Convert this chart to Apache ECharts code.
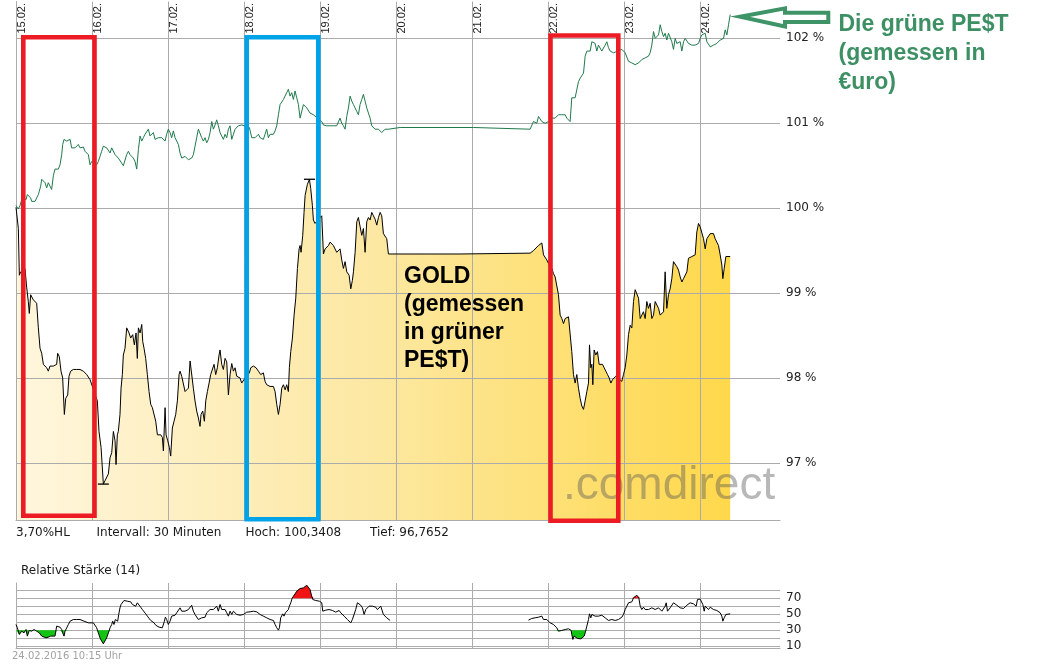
<!DOCTYPE html>
<html><head><meta charset="utf-8">
<script src="https://cdn.jsdelivr.net/npm/echarts@6.0.0/dist/echarts.min.js"></script>
<style>html,body{margin:0;padding:0;background:#fff}#c{width:1048px;height:669px}</style>
</head><body><div id="c"></div>
<script>
// ---- data ----
const dayLabels = ['15.02.','16.02.','17.02.','18.02.','19.02.','20.02.','21.02.','22.02.','23.02.','24.02.'];
const dayTicks = [0,1,2,3,4,5,6,7,8,9];
const pctTicks = [97,98,99,100,101,102];
const rsiGridTicks = [10,20,30,40,50,60,70,80];
const rsiLabelTicks = [10,30,50,70];
const infoTexts = ['3,70%HL','Intervall: 30 Minuten','Hoch: 100,3408','Tief: 96,7652'];
const panelTitle = 'Relative Stärke (14)';
const stamp = '24.02.2016 10:15 Uhr';
const goldNote = ['GOLD','(gemessen','in grüner','PE$T)'];
const pestNote = ['Die grüne PE$T','(gemessen in','€uro)'];

// gold, measured in "green PEST" (% of start), x = days since 15.02.
const gold = [[0,100.01],[0.031,99.76],[0.044,99.21],[0.061,99.25],[0.074,99.23],[0.118,99.29],[0.140,99.07],[0.162,98.90],[0.175,98.76],[0.193,98.98],[0.228,98.92],[0.272,98.88],[0.294,98.59],[0.316,98.35],[0.338,98.29],[0.360,98.16],[0.382,98.17],[0.404,98.12],[0.425,98.08],[0.447,98.14],[0.469,98.12],[0.491,98.14],[0.513,98.12],[0.535,98.16],[0.548,98.29],[0.570,98.25],[0.592,98.08],[0.614,98.00],[0.636,97.57],[0.654,97.76],[0.680,97.80],[0.697,98.02],[0.719,98.08],[0.754,98.10],[0.798,98.10],[0.842,98.10],[0.886,98.08],[0.930,98.04],[0.974,97.98],[1.000,97.96],[1.070,97.73],[1.092,97.37],[1.119,97.18],[1.136,96.94],[1.149,96.75],[1.171,96.79],[1.193,96.77],[1.215,96.87],[1.237,97.06],[1.259,97.12],[1.281,97.37],[1.303,97.26],[1.316,96.98],[1.333,97.33],[1.346,97.37],[1.368,97.57],[1.382,97.88],[1.399,98.04],[1.412,98.27],[1.434,98.35],[1.456,98.59],[1.469,98.60],[1.487,98.53],[1.509,98.47],[1.535,98.51],[1.557,98.39],[1.579,98.53],[1.596,98.23],[1.610,98.59],[1.632,98.53],[1.654,98.63],[1.667,98.43],[1.684,98.35],[1.706,98.23],[1.728,98.04],[1.750,97.84],[1.772,97.69],[1.794,97.65],[1.816,97.63],[1.838,97.49],[1.860,97.33],[1.882,97.35],[1.904,97.33],[1.925,97.30],[1.939,97.14],[1.961,97.65],[1.974,97.33],[1.996,97.26],[2.018,97.18],[2.035,97.08],[2.057,97.41],[2.079,97.49],[2.101,97.57],[2.123,97.73],[2.145,98.04],[2.158,98.08],[2.180,98.02],[2.202,98.04],[2.224,97.84],[2.246,97.86],[2.268,97.88],[2.290,98.20],[2.311,98.21],[2.333,97.88],[2.355,97.73],[2.377,97.61],[2.399,97.53],[2.421,97.43],[2.434,97.57],[2.456,97.61],[2.478,97.49],[2.496,97.73],[2.518,97.84],[2.540,97.94],[2.561,98.04],[2.583,98.06],[2.605,98.16],[2.627,98.04],[2.649,98.12],[2.671,98.27],[2.684,98.33],[2.706,98.16],[2.728,98.10],[2.750,98.23],[2.772,98.19],[2.794,97.80],[2.816,98.04],[2.838,98.17],[2.860,98.08],[2.882,98.12],[2.904,98.02],[2.925,98.04],[2.947,98.00],[2.969,97.94],[2.991,97.96],[3.013,98.00],[3.070,98.06],[3.088,98.12],[3.123,98.14],[3.158,98.12],[3.189,98.08],[3.219,98.04],[3.254,98.06],[3.276,97.96],[3.298,97.92],[3.342,97.90],[3.386,97.90],[3.408,97.84],[3.430,97.69],[3.452,97.57],[3.474,97.69],[3.496,97.88],[3.518,97.92],[3.540,97.86],[3.561,97.92],[3.583,97.84],[3.596,98.12],[3.614,98.31],[3.636,98.47],[3.658,98.74],[3.680,98.94],[3.702,99.29],[3.724,99.52],[3.737,99.56],[3.750,99.48],[3.772,99.68],[3.789,99.95],[3.803,100.15],[3.833,100.28],[3.860,100.34],[3.877,100.23],[3.899,100.03],[3.912,99.86],[3.934,99.82],[3.956,99.84],[4.022,99.91],[4.044,99.46],[4.066,99.52],[4.110,99.56],[4.132,99.60],[4.154,99.58],[4.175,99.56],[4.197,99.54],[4.219,99.48],[4.241,99.50],[4.263,99.52],[4.285,99.39],[4.307,99.29],[4.329,99.37],[4.351,99.25],[4.382,99.21],[4.404,99.05],[4.425,99.15],[4.439,99.25],[4.461,99.48],[4.483,99.84],[4.504,99.89],[4.526,99.87],[4.548,99.68],[4.570,99.76],[4.592,99.48],[4.614,99.84],[4.636,99.89],[4.658,99.86],[4.680,99.95],[4.702,99.91],[4.724,99.87],[4.746,99.80],[4.768,99.89],[4.790,99.95],[4.811,99.91],[4.833,99.70],[4.855,99.70],[4.877,99.64],[4.899,99.46],[5.840,99.46],[5.850,99.47],[6.763,99.47],[6.807,99.50],[6.873,99.56],[6.917,99.59],[6.939,99.45],[6.982,99.39],[7.004,99.35],[7.048,99.29],[7.070,99.23],[7.092,99.19],[7.114,99.17],[7.136,98.98],[7.158,98.74],[7.180,98.70],[7.202,98.64],[7.224,98.70],[7.246,98.72],[7.268,98.72],[7.290,98.74],[7.311,98.31],[7.333,98.04],[7.355,97.94],[7.377,98.04],[7.399,97.88],[7.421,97.76],[7.443,97.67],[7.465,97.63],[7.487,97.73],[7.509,97.84],[7.531,97.94],[7.544,98.39],[7.561,98.12],[7.575,98.16],[7.588,97.92],[7.605,98.33],[7.627,98.27],[7.649,98.31],[7.671,98.16],[7.693,98.17],[7.715,98.16],[7.737,98.12],[7.759,98.08],[7.781,98.04],[7.803,98.00],[7.825,97.94],[7.847,97.98],[7.868,97.96],[7.890,98.02],[7.904,98.04],[7.969,97.96],[7.991,98.04],[8.013,98.12],[8.035,98.27],[8.057,98.51],[8.079,98.62],[8.101,98.59],[8.123,98.90],[8.145,99.04],[8.167,99.05],[8.189,98.94],[8.211,98.70],[8.232,98.68],[8.254,98.78],[8.276,98.70],[8.298,98.90],[8.320,98.82],[8.342,98.88],[8.364,98.70],[8.386,98.74],[8.408,98.90],[8.430,98.90],[8.452,98.82],[8.474,98.74],[8.496,98.76],[8.518,98.78],[8.539,99.25],[8.561,98.82],[8.583,98.98],[8.605,99.05],[8.627,99.17],[8.649,99.37],[8.671,99.35],[8.693,99.31],[8.715,99.27],[8.737,99.19],[8.759,99.13],[8.781,99.17],[8.803,99.19],[8.825,99.25],[8.846,99.41],[8.868,99.41],[8.890,99.43],[8.912,99.41],[8.934,99.45],[8.956,99.72],[8.978,99.82],[9.000,99.78],[9.022,99.76],[9.044,99.64],[9.066,99.52],[9.088,99.64],[9.110,99.64],[9.132,99.70],[9.154,99.68],[9.175,99.70],[9.197,99.64],[9.219,99.60],[9.241,99.56],[9.263,99.45],[9.285,99.33],[9.298,99.17],[9.316,99.29],[9.338,99.43],[9.360,99.43],[9.395,99.43]];

// green PEST measured in euro (% of start)
const pest = [[0.000,100.03],[0.031,99.99],[0.053,100.03],[0.075,100.10],[0.105,100.12],[0.132,100.10],[0.149,100.16],[0.175,100.14],[0.193,100.12],[0.206,100.08],[0.228,100.10],[0.250,100.08],[0.272,100.08],[0.294,100.16],[0.307,100.20],[0.325,100.26],[0.338,100.34],[0.360,100.34],[0.382,100.30],[0.404,100.24],[0.425,100.30],[0.447,100.26],[0.469,100.22],[0.491,100.38],[0.513,100.46],[0.535,100.48],[0.557,100.46],[0.579,100.51],[0.601,100.63],[0.614,100.75],[0.632,100.81],[0.654,100.83],[0.667,100.79],[0.689,100.80],[0.711,100.81],[0.732,100.71],[0.754,100.73],[0.776,100.71],[0.798,100.73],[0.820,100.75],[0.842,100.71],[0.864,100.71],[0.886,100.72],[0.908,100.67],[0.930,100.69],[0.952,100.63],[0.974,100.51],[0.996,100.55],[1.061,100.51],[1.083,100.55],[1.105,100.61],[1.127,100.67],[1.149,100.73],[1.171,100.73],[1.193,100.71],[1.215,100.73],[1.237,100.65],[1.259,100.71],[1.281,100.69],[1.303,100.63],[1.325,100.65],[1.346,100.59],[1.368,100.57],[1.390,100.53],[1.412,100.50],[1.434,100.51],[1.456,100.63],[1.478,100.67],[1.500,100.63],[1.522,100.61],[1.544,100.59],[1.566,100.55],[1.588,100.46],[1.610,100.69],[1.632,100.85],[1.654,100.79],[1.675,100.83],[1.697,100.87],[1.719,100.89],[1.741,100.93],[1.763,100.85],[1.785,100.85],[1.807,100.89],[1.829,100.81],[1.851,100.83],[1.873,100.83],[1.895,100.85],[1.917,100.83],[1.939,100.81],[1.961,100.79],[1.982,100.87],[2.004,100.93],[2.026,100.89],[2.048,100.83],[2.070,100.91],[2.092,100.83],[2.114,100.83],[2.136,100.75],[2.158,100.65],[2.180,100.59],[2.202,100.57],[2.224,100.61],[2.246,100.59],[2.268,100.57],[2.289,100.55],[2.311,100.59],[2.333,100.63],[2.355,100.73],[2.377,100.83],[2.399,100.93],[2.421,100.95],[2.443,100.83],[2.465,100.79],[2.487,100.83],[2.509,100.77],[2.531,100.81],[2.553,100.89],[2.575,101.02],[2.596,100.93],[2.618,100.98],[2.640,101.04],[2.662,100.97],[2.684,100.89],[2.706,100.85],[2.728,100.81],[2.750,100.87],[2.772,100.83],[2.794,100.93],[2.816,100.97],[2.838,100.81],[2.860,100.87],[2.882,100.93],[2.904,100.95],[2.925,100.97],[2.947,100.97],[2.969,100.98],[2.991,101.00],[3.070,100.95],[3.101,100.83],[3.123,100.85],[3.145,100.83],[3.167,100.85],[3.189,100.87],[3.211,100.83],[3.232,100.85],[3.254,100.81],[3.276,100.87],[3.298,100.93],[3.320,100.83],[3.342,100.87],[3.364,100.85],[3.386,100.87],[3.408,100.91],[3.430,100.97],[3.452,101.10],[3.474,101.22],[3.496,101.24],[3.518,101.28],[3.539,101.32],[3.561,101.36],[3.583,101.40],[3.605,101.32],[3.627,101.36],[3.649,101.28],[3.671,101.38],[3.693,101.30],[3.715,101.22],[3.737,101.06],[3.759,101.08],[3.781,101.22],[3.803,101.20],[3.825,101.18],[3.846,101.16],[3.868,101.12],[3.890,101.14],[3.912,101.10],[3.934,101.08],[4.022,101.02],[4.044,100.98],[4.066,100.97],[4.088,100.97],[4.110,100.95],[4.132,100.97],[4.154,100.95],[4.175,100.97],[4.197,100.97],[4.219,100.97],[4.241,100.98],[4.263,101.06],[4.285,101.00],[4.307,100.97],[4.329,100.93],[4.351,101.08],[4.373,101.18],[4.395,101.32],[4.417,101.26],[4.439,101.22],[4.461,101.20],[4.482,101.14],[4.504,101.10],[4.526,101.22],[4.548,101.28],[4.570,101.34],[4.592,101.26],[4.614,101.18],[4.636,101.12],[4.658,101.06],[4.680,100.97],[4.702,100.95],[4.724,100.93],[4.746,100.93],[4.768,100.93],[4.789,100.91],[4.811,100.89],[4.833,100.91],[4.855,100.93],[4.877,100.93],[4.899,100.93],[4.921,100.95],[5.053,100.95],[6.018,100.95],[6.763,100.93],[6.785,100.93],[6.807,101.02],[6.829,101.04],[6.851,101.00],[6.873,101.08],[6.895,101.06],[6.917,101.02],[6.939,101.04],[6.961,101.00],[6.982,100.98],[7.004,101.02],[7.026,101.04],[7.048,101.06],[7.070,101.04],[7.092,101.06],[7.114,101.08],[7.136,101.10],[7.158,101.12],[7.180,101.10],[7.202,101.08],[7.224,101.10],[7.246,101.06],[7.268,101.04],[7.289,101.02],[7.311,101.30],[7.333,101.28],[7.355,101.30],[7.377,101.32],[7.399,101.49],[7.421,101.53],[7.443,101.53],[7.465,101.59],[7.487,101.79],[7.509,101.85],[7.531,101.87],[7.553,101.85],[7.575,101.96],[7.596,101.98],[7.618,101.94],[7.640,101.85],[7.662,101.92],[7.684,101.94],[7.706,101.85],[7.728,101.87],[7.750,101.92],[7.772,101.96],[7.794,101.89],[7.816,101.85],[7.838,101.87],[7.860,101.83],[7.882,101.85],[7.969,101.87],[7.991,101.85],[8.013,101.83],[8.035,101.81],[8.057,101.73],[8.079,101.71],[8.101,101.71],[8.123,101.73],[8.145,101.69],[8.167,101.71],[8.189,101.71],[8.211,101.73],[8.232,101.75],[8.254,101.73],[8.276,101.77],[8.298,101.75],[8.320,101.79],[8.342,101.83],[8.364,101.92],[8.386,102.08],[8.408,102.00],[8.430,101.98],[8.452,102.04],[8.474,102.16],[8.496,102.08],[8.518,102.02],[8.539,102.06],[8.561,101.98],[8.583,102.06],[8.605,102.06],[8.627,101.96],[8.649,101.87],[8.671,102.00],[8.693,101.94],[8.715,101.92],[8.737,101.96],[8.759,101.85],[8.781,101.96],[8.803,102.00],[8.825,102.02],[8.846,101.94],[8.868,101.92],[8.890,101.92],[8.912,101.94],[8.934,101.92],[8.956,101.90],[8.978,101.94],[9.000,102.00],[9.022,102.04],[9.044,102.04],[9.066,102.06],[9.088,101.96],[9.110,101.94],[9.132,101.90],[9.154,101.92],[9.175,101.92],[9.197,101.94],[9.219,101.94],[9.241,101.96],[9.263,101.98],[9.285,101.96],[9.307,102.00],[9.329,102.10],[9.351,102.04],[9.373,102.16],[9.395,102.28]];

// Relative Staerke (14); null = no data over the weekend
const rsi = [[0.000,37.1],[0.018,32.9],[0.044,24.6],[0.075,28.7],[0.105,26.6],[0.132,30.8],[0.149,22.5],[0.175,29.6],[0.206,28.7],[0.237,30.8],[0.272,28.7],[0.307,26.6],[0.338,22.5],[0.360,21.2],[0.395,20.4],[0.425,21.2],[0.456,22.5],[0.482,22.5],[0.513,22.5],[0.526,24.6],[0.535,35.0],[0.557,32.9],[0.579,33.7],[0.601,30.8],[0.614,26.6],[0.632,22.5],[0.645,28.7],[0.667,30.8],[0.689,37.1],[0.711,41.2],[0.732,42.1],[0.754,43.3],[0.798,43.3],[0.842,43.3],[0.864,42.1],[0.895,41.2],[0.921,40.0],[0.952,39.1],[0.974,37.1],[0.987,39.1],[1.000,41.2],[1.018,39.1],[1.039,37.1],[1.061,32.9],[1.083,26.6],[1.105,20.4],[1.127,16.2],[1.149,12.9],[1.171,14.2],[1.193,20.4],[1.215,26.6],[1.237,32.9],[1.259,37.1],[1.272,41.2],[1.289,37.1],[1.307,43.3],[1.325,45.4],[1.338,41.2],[1.351,49.6],[1.368,57.9],[1.382,62.1],[1.399,64.2],[1.421,67.1],[1.443,68.3],[1.465,66.2],[1.487,64.2],[1.509,65.4],[1.531,62.1],[1.553,62.9],[1.575,60.0],[1.596,64.2],[1.618,62.1],[1.640,58.7],[1.662,55.8],[1.684,53.7],[1.706,50.4],[1.728,47.5],[1.750,45.4],[1.772,42.1],[1.794,40.4],[1.816,39.1],[1.838,36.2],[1.860,35.0],[1.882,33.7],[1.904,35.0],[1.925,32.9],[1.939,30.8],[1.952,41.2],[1.965,46.2],[1.982,43.3],[2.004,37.1],[2.026,41.2],[2.048,47.5],[2.070,49.6],[2.092,48.7],[2.114,51.7],[2.136,53.7],[2.158,57.9],[2.180,53.7],[2.202,55.8],[2.224,53.7],[2.246,53.7],[2.268,55.8],[2.289,57.9],[2.311,61.2],[2.333,53.7],[2.355,49.6],[2.377,47.5],[2.399,43.3],[2.421,42.1],[2.443,45.4],[2.465,47.5],[2.487,46.2],[2.509,51.7],[2.531,53.7],[2.553,55.8],[2.575,57.9],[2.596,55.8],[2.618,57.9],[2.640,60.0],[2.662,53.7],[2.684,62.1],[2.706,55.8],[2.728,53.7],[2.750,55.8],[2.772,51.7],[2.794,47.5],[2.816,53.7],[2.838,49.6],[2.860,53.7],[2.882,51.7],[2.904,49.6],[2.925,51.7],[2.947,48.7],[2.969,50.4],[2.991,49.6],[3.013,51.7],[3.035,52.5],[3.057,53.7],[3.079,52.9],[3.101,51.7],[3.123,53.7],[3.145,54.6],[3.167,52.9],[3.189,51.7],[3.211,49.6],[3.232,50.4],[3.254,47.5],[3.276,46.2],[3.298,45.4],[3.320,46.2],[3.342,43.3],[3.364,44.6],[3.386,42.1],[3.408,37.1],[3.430,32.9],[3.452,30.0],[3.465,32.9],[3.482,45.4],[3.496,47.5],[3.509,50.4],[3.526,47.5],[3.544,51.7],[3.561,53.7],[3.583,55.8],[3.596,60.0],[3.614,64.2],[3.632,69.6],[3.649,72.5],[3.671,75.4],[3.693,78.7],[3.715,80.8],[3.737,82.1],[3.759,82.9],[3.781,82.9],[3.803,85.0],[3.825,86.2],[3.846,87.1],[3.868,80.8],[3.890,72.5],[3.904,68.3],[3.921,67.1],[3.943,67.1],[3.965,66.2],[3.991,66.2],[4.009,68.3],[4.022,64.2],[4.035,53.7],[4.053,54.6],[4.075,55.0],[4.096,55.8],[4.118,55.8],[4.140,56.6],[4.162,54.6],[4.184,53.7],[4.206,52.5],[4.228,53.7],[4.250,54.6],[4.272,51.7],[4.294,49.6],[4.316,47.5],[4.338,46.2],[4.360,43.3],[4.382,41.2],[4.404,39.1],[4.425,43.3],[4.447,45.4],[4.469,55.8],[4.491,64.2],[4.513,62.9],[4.535,61.2],[4.557,57.9],[4.579,49.6],[4.601,55.8],[4.623,57.9],[4.645,60.0],[4.667,58.7],[4.689,60.0],[4.711,57.9],[4.732,58.7],[4.754,55.8],[4.776,57.9],[4.798,60.0],[4.820,57.9],[4.833,49.6],[4.855,47.5],[4.877,45.4],[4.899,43.3],[4.921,42.1],[5.800,null],[6.741,42.5],[6.785,44.6],[6.829,45.4],[6.873,46.2],[6.917,47.5],[6.939,43.3],[6.961,41.2],[6.982,43.3],[7.004,42.1],[7.026,39.1],[7.048,37.9],[7.070,37.1],[7.092,35.0],[7.114,32.9],[7.136,28.7],[7.158,26.6],[7.180,29.6],[7.202,28.7],[7.224,30.8],[7.246,30.8],[7.268,31.7],[7.289,32.9],[7.303,29.6],[7.311,24.6],[7.325,18.3],[7.342,22.5],[7.364,21.2],[7.386,19.6],[7.408,19.1],[7.430,19.1],[7.452,20.4],[7.474,22.5],[7.487,26.6],[7.509,35.0],[7.531,43.3],[7.544,50.4],[7.561,45.4],[7.575,49.6],[7.596,50.4],[7.618,47.5],[7.640,48.7],[7.662,47.5],[7.684,46.2],[7.706,48.7],[7.728,46.2],[7.750,45.4],[7.772,43.3],[7.794,42.1],[7.816,41.2],[7.838,43.3],[7.860,41.2],[7.882,42.1],[7.904,44.6],[7.925,43.3],[7.947,42.1],[7.969,46.2],[7.991,49.6],[8.013,55.8],[8.035,60.0],[8.057,64.2],[8.079,66.2],[8.101,65.4],[8.123,70.4],[8.145,72.5],[8.167,73.7],[8.180,72.5],[8.193,70.4],[8.211,60.0],[8.232,55.8],[8.254,58.7],[8.276,55.8],[8.298,57.9],[8.320,55.8],[8.342,53.7],[8.364,57.9],[8.386,57.1],[8.408,55.8],[8.430,54.6],[8.452,57.9],[8.474,55.8],[8.496,53.7],[8.518,54.6],[8.539,60.0],[8.553,64.2],[8.570,53.7],[8.583,55.8],[8.605,57.9],[8.627,58.7],[8.649,64.2],[8.671,62.1],[8.693,61.2],[8.715,60.0],[8.737,57.9],[8.759,55.8],[8.781,57.1],[8.803,58.7],[8.825,61.2],[8.846,62.1],[8.868,64.2],[8.890,62.9],[8.912,62.9],[8.934,64.2],[8.947,60.0],[8.965,68.5],[8.987,69.8],[9.000,68.8],[9.013,68.3],[9.035,62.1],[9.053,53.7],[9.066,60.0],[9.088,57.9],[9.110,55.8],[9.132,58.7],[9.154,57.9],[9.175,55.8],[9.197,57.1],[9.219,54.6],[9.241,52.9],[9.263,51.7],[9.285,47.5],[9.298,41.2],[9.316,45.4],[9.338,49.6],[9.360,50.4],[9.395,50.4]];

const rsiUpper = 70, rsiLower = 30;

// ---- chart ----
const FONT = '"DejaVu Sans", Verdana, sans-serif';
const AFONT = '"Liberation Sans", Arial, sans-serif';
const GRIDC = '#ababab';

let hi = gold[0], lo = gold[0];
gold.forEach(p => { if (p[1] > hi[1]) hi = p; if (p[1] < lo[1]) lo = p; });

const rsiHigh = rsi.map(p => [p[0], p[1] == null ? null : Math.max(p[1], rsiUpper)]);
const rsiLow = rsi.map(p => [p[0], p[1] == null ? null : Math.min(p[1], rsiLower)]);

function txt(text, x, y, font, fill, extra) {
  return Object.assign({
    type: 'text', x: x, y: y, z: 100, silent: true,
    style: { text: text, font: font, fill: fill, align: 'left', verticalAlign: 'middle', textAlign: 'left', textVerticalAlign: 'middle' }
  }, extra || {});
}

const graphics = [];
const infoX = [16, 96.5, 245.5, 370];
infoTexts.forEach((t, i) => graphics.push(txt(t, infoX[i], 533.2, '12px ' + FONT, '#1a1a1a')));
graphics.push(txt(panelTitle, 21, 570.6, '12px ' + FONT, '#1a1a1a'));
graphics.push(txt(stamp, 12, 656.6, '10px ' + FONT, '#a3a3a3'));
graphics.push(txt('.comdirect', 563, 486, '46px ' + AFONT, 'rgba(85,85,85,0.42)', {z: 50}));
goldNote.forEach((t, i) => graphics.push(txt(t, 404, 276.3 + 28 * i, 'bold 23px ' + AFONT, '#000')));
pestNote.forEach((t, i) => graphics.push(txt(t, 838.5, 24.5 + 29.2 * i, 'bold 23px ' + AFONT, '#3d9063')));
const RED = '#ed1c24', BLUE = '#00a2e8';
graphics.push({ type: 'rect', z: 100, silent: true, shape: { x: 23.3, y: 37.2, width: 71.2, height: 478.6 }, style: { fill: 'none', stroke: RED, lineWidth: 4.6 } });
graphics.push({ type: 'rect', z: 100, silent: true, shape: { x: 246.7, y: 37.2, width: 71.6, height: 482 }, style: { fill: 'none', stroke: BLUE, lineWidth: 4.6 } });
graphics.push({ type: 'rect', z: 100, silent: true, shape: { x: 550.5, y: 35.5, width: 67.8, height: 485.3 }, style: { fill: 'none', stroke: RED, lineWidth: 4.6 } });
graphics.push({ type: 'polygon', z: 100, silent: true, shape: { points: [[740, 16.7], [785, 8.3], [785, 12.7], [828.3, 12.7], [828.3, 22], [785, 22], [785, 26.5]] }, style: { fill: 'none', stroke: '#3f9467', lineWidth: 4, lineJoin: 'miter' } });

const chart = echarts.init(document.getElementById('c'), null, { renderer: 'canvas' });
chart.setOption({
  animation: false,
  backgroundColor: '#fff',
  grid: [
    { left: 16, top: 0, width: 764, height: 520 },
    { left: 16, top: 583, width: 764, height: 65.5 }
  ],
  xAxis: [
    { gridIndex: 0, type: 'value', position: 'top', min: 0, max: 10.05, interval: 1, z: 3,
      axisLine: { show: false }, axisTick: { show: false, customValues: dayTicks },
      axisLabel: { customValues: dayTicks, inside: true, rotate: -90, margin: 32, align: 'left', verticalAlign: 'top',
        formatter: v => dayLabels[Math.round(v)] || '', color: '#222', fontSize: 11, fontFamily: AFONT },
      splitLine: { show: true, lineStyle: { color: GRIDC, width: 1 } } },
    { gridIndex: 0, type: 'value', position: 'bottom', min: 0, max: 10.05, z: 3,
      axisLine: { show: true, lineStyle: { color: GRIDC, width: 1 } }, axisTick: { show: false }, axisLabel: { show: false }, splitLine: { show: false } },
    { gridIndex: 1, type: 'value', position: 'bottom', min: 0, max: 10.05, interval: 1,
      axisLine: { show: true, lineStyle: { color: GRIDC, width: 1 } }, axisTick: { show: false, customValues: dayTicks },
      axisLabel: { show: false }, splitLine: { show: true, lineStyle: { color: GRIDC, width: 1 } } }
  ],
  yAxis: [
    { gridIndex: 0, type: 'value', position: 'right', min: 96.327, max: 102.433, z: 3,
      axisLine: { show: true, lineStyle: { color: GRIDC, width: 1 } }, axisTick: { show: false, customValues: pctTicks },
      axisLabel: { customValues: pctTicks, formatter: v => v + ' %', color: '#222', fontSize: 12, fontFamily: FONT, margin: 6 },
      splitLine: { show: true, lineStyle: { color: GRIDC, width: 1 } } },
    { gridIndex: 1, type: 'value', position: 'right', min: 7, max: 89,
      axisLine: { show: true, lineStyle: { color: GRIDC, width: 1 } }, axisTick: { show: false, customValues: rsiGridTicks },
      axisLabel: { customValues: rsiLabelTicks, color: '#222', fontSize: 12, fontFamily: FONT, margin: 6 },
      splitLine: { show: true, lineStyle: { color: GRIDC, width: 1 } } }
  ],
  series: [
    { name: 'GoldArea', type: 'line', xAxisIndex: 0, yAxisIndex: 0, data: gold, showSymbol: false, z: 2, silent: true,
      lineStyle: { width: 0 },
      areaStyle: { origin: 'start', opacity: 1, color: new echarts.graphic.LinearGradient(0, 0, 1, 0, [
        { offset: 0, color: '#fff6dd' }, { offset: 0.5, color: '#fce8a2' }, { offset: 1, color: '#ffd84b' }]) } },
    { name: 'Gold', type: 'line', xAxisIndex: 0, yAxisIndex: 0, data: gold, showSymbol: false, z: 5,
      lineStyle: { width: 1, color: '#000' }, itemStyle: { color: '#000' },
      markPoint: { symbol: 'rect', symbolSize: [11, 1.3], silent: true, label: { show: false }, itemStyle: { color: '#000' },
        data: [{ coord: hi }, { coord: lo }] } },
    { name: 'PEST', type: 'line', xAxisIndex: 0, yAxisIndex: 0, data: pest, showSymbol: false, z: 6,
      lineStyle: { width: 1, color: '#1f7a4b' }, itemStyle: { color: '#1f7a4b' } },
    { name: 'RSI hoch', type: 'line', xAxisIndex: 2, yAxisIndex: 1, data: rsiHigh, showSymbol: false, z: 2,
      lineStyle: { width: 0 }, areaStyle: { origin: rsiUpper, color: '#f01414', opacity: 1 } },
    { name: 'RSI tief', type: 'line', xAxisIndex: 2, yAxisIndex: 1, data: rsiLow, showSymbol: false, z: 2,
      lineStyle: { width: 0 }, areaStyle: { origin: rsiLower, color: '#14c414', opacity: 1 } },
    { name: 'RSI', type: 'line', xAxisIndex: 2, yAxisIndex: 1, data: rsi, showSymbol: false, z: 4,
      lineStyle: { width: 1, color: '#000' }, itemStyle: { color: '#000' } }
  ],
  graphic: graphics
});
</script>
</body></html>
